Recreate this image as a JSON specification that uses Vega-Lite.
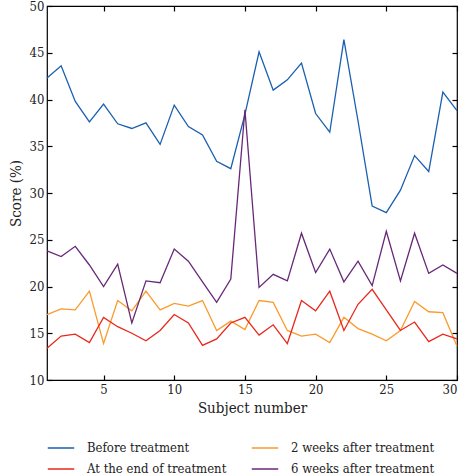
{
  "$schema": "https://vega.github.io/schema/vega-lite/v6.json",
  "width": 410,
  "height": 374,
  "padding": {"left": 8, "top": 0, "right": 7, "bottom": 0},
  "background": "white",
  "config": {
    "font": "DejaVu Serif Condensed, DejaVu Serif",
    "view": {"stroke": "black", "strokeWidth": 1.2},
    "legend": {"labelFont": "DejaVu Serif Condensed, DejaVu Serif"},
    "axis": {"labelFont": "DejaVu Serif Condensed, DejaVu Serif", "titleFont": "DejaVu Serif Condensed, DejaVu Serif", "labelFontSize": 13, "titleFontSize": 15, "titleFontWeight": "normal", "labelColor": "#222", "titleColor": "#222", "grid": false, "domain": false, "tickColor": "black", "tickSize": -5, "tickWidth": 1.2, "labelPadding": 8}
  },
  "data": {"values": [
    {"s":1,"g":"Before treatment","v":42.3},{"s":2,"g":"Before treatment","v":43.6},{"s":3,"g":"Before treatment","v":39.8},{"s":4,"g":"Before treatment","v":37.6},{"s":5,"g":"Before treatment","v":39.5},{"s":6,"g":"Before treatment","v":37.4},{"s":7,"g":"Before treatment","v":36.9},{"s":8,"g":"Before treatment","v":37.5},{"s":9,"g":"Before treatment","v":35.2},{"s":10,"g":"Before treatment","v":39.4},{"s":11,"g":"Before treatment","v":37.1},{"s":12,"g":"Before treatment","v":36.2},{"s":13,"g":"Before treatment","v":33.4},{"s":14,"g":"Before treatment","v":32.6},{"s":15,"g":"Before treatment","v":38.4},{"s":16,"g":"Before treatment","v":45.1},{"s":17,"g":"Before treatment","v":41.0},{"s":18,"g":"Before treatment","v":42.1},{"s":19,"g":"Before treatment","v":43.9},{"s":20,"g":"Before treatment","v":38.5},{"s":21,"g":"Before treatment","v":36.5},{"s":22,"g":"Before treatment","v":46.4},{"s":23,"g":"Before treatment","v":37.7},{"s":24,"g":"Before treatment","v":28.6},{"s":25,"g":"Before treatment","v":27.9},{"s":26,"g":"Before treatment","v":30.3},{"s":27,"g":"Before treatment","v":34.0},{"s":28,"g":"Before treatment","v":32.3},{"s":29,"g":"Before treatment","v":40.8},{"s":30,"g":"Before treatment","v":38.8},
    {"s":1,"g":"2 weeks after treatment","v":17.0},{"s":2,"g":"2 weeks after treatment","v":17.6},{"s":3,"g":"2 weeks after treatment","v":17.5},{"s":4,"g":"2 weeks after treatment","v":19.5},{"s":5,"g":"2 weeks after treatment","v":13.9},{"s":6,"g":"2 weeks after treatment","v":18.5},{"s":7,"g":"2 weeks after treatment","v":17.4},{"s":8,"g":"2 weeks after treatment","v":19.5},{"s":9,"g":"2 weeks after treatment","v":17.5},{"s":10,"g":"2 weeks after treatment","v":18.2},{"s":11,"g":"2 weeks after treatment","v":17.9},{"s":12,"g":"2 weeks after treatment","v":18.5},{"s":13,"g":"2 weeks after treatment","v":15.3},{"s":14,"g":"2 weeks after treatment","v":16.3},{"s":15,"g":"2 weeks after treatment","v":15.4},{"s":16,"g":"2 weeks after treatment","v":18.5},{"s":17,"g":"2 weeks after treatment","v":18.3},{"s":18,"g":"2 weeks after treatment","v":15.3},{"s":19,"g":"2 weeks after treatment","v":14.7},{"s":20,"g":"2 weeks after treatment","v":14.9},{"s":21,"g":"2 weeks after treatment","v":14.0},{"s":22,"g":"2 weeks after treatment","v":16.7},{"s":23,"g":"2 weeks after treatment","v":15.5},{"s":24,"g":"2 weeks after treatment","v":14.9},{"s":25,"g":"2 weeks after treatment","v":14.2},{"s":26,"g":"2 weeks after treatment","v":15.3},{"s":27,"g":"2 weeks after treatment","v":18.4},{"s":28,"g":"2 weeks after treatment","v":17.3},{"s":29,"g":"2 weeks after treatment","v":17.2},{"s":30,"g":"2 weeks after treatment","v":13.6},
    {"s":1,"g":"At the end of treatment","v":13.4},{"s":2,"g":"At the end of treatment","v":14.7},{"s":3,"g":"At the end of treatment","v":14.9},{"s":4,"g":"At the end of treatment","v":14.0},{"s":5,"g":"At the end of treatment","v":16.7},{"s":6,"g":"At the end of treatment","v":15.7},{"s":7,"g":"At the end of treatment","v":15.0},{"s":8,"g":"At the end of treatment","v":14.2},{"s":9,"g":"At the end of treatment","v":15.3},{"s":10,"g":"At the end of treatment","v":17.0},{"s":11,"g":"At the end of treatment","v":16.1},{"s":12,"g":"At the end of treatment","v":13.7},{"s":13,"g":"At the end of treatment","v":14.4},{"s":14,"g":"At the end of treatment","v":16.1},{"s":15,"g":"At the end of treatment","v":16.7},{"s":16,"g":"At the end of treatment","v":14.8},{"s":17,"g":"At the end of treatment","v":15.9},{"s":18,"g":"At the end of treatment","v":13.9},{"s":19,"g":"At the end of treatment","v":18.5},{"s":20,"g":"At the end of treatment","v":17.4},{"s":21,"g":"At the end of treatment","v":19.5},{"s":22,"g":"At the end of treatment","v":15.3},{"s":23,"g":"At the end of treatment","v":18.1},{"s":24,"g":"At the end of treatment","v":19.7},{"s":25,"g":"At the end of treatment","v":17.5},{"s":26,"g":"At the end of treatment","v":15.3},{"s":27,"g":"At the end of treatment","v":16.2},{"s":28,"g":"At the end of treatment","v":14.1},{"s":29,"g":"At the end of treatment","v":14.9},{"s":30,"g":"At the end of treatment","v":14.4},
    {"s":1,"g":"6 weeks after treatment","v":23.8},{"s":2,"g":"6 weeks after treatment","v":23.2},{"s":3,"g":"6 weeks after treatment","v":24.3},{"s":4,"g":"6 weeks after treatment","v":22.3},{"s":5,"g":"6 weeks after treatment","v":20.0},{"s":6,"g":"6 weeks after treatment","v":22.4},{"s":7,"g":"6 weeks after treatment","v":16.1},{"s":8,"g":"6 weeks after treatment","v":20.6},{"s":9,"g":"6 weeks after treatment","v":20.4},{"s":10,"g":"6 weeks after treatment","v":24.0},{"s":11,"g":"6 weeks after treatment","v":22.7},{"s":12,"g":"6 weeks after treatment","v":20.5},{"s":13,"g":"6 weeks after treatment","v":18.3},{"s":14,"g":"6 weeks after treatment","v":20.8},{"s":15,"g":"6 weeks after treatment","v":38.9},{"s":16,"g":"6 weeks after treatment","v":19.9},{"s":17,"g":"6 weeks after treatment","v":21.3},{"s":18,"g":"6 weeks after treatment","v":20.6},{"s":19,"g":"6 weeks after treatment","v":25.7},{"s":20,"g":"6 weeks after treatment","v":21.5},{"s":21,"g":"6 weeks after treatment","v":24.0},{"s":22,"g":"6 weeks after treatment","v":20.5},{"s":23,"g":"6 weeks after treatment","v":22.7},{"s":24,"g":"6 weeks after treatment","v":20.1},{"s":25,"g":"6 weeks after treatment","v":25.9},{"s":26,"g":"6 weeks after treatment","v":20.6},{"s":27,"g":"6 weeks after treatment","v":25.7},{"s":28,"g":"6 weeks after treatment","v":21.4},{"s":29,"g":"6 weeks after treatment","v":22.3},{"s":30,"g":"6 weeks after treatment","v":21.4}
  ]},
  "resolve": {"axis": {"x": "independent", "y": "independent"}},
  "layer": [
    {
      "mark": {"type": "line", "strokeWidth": 1.3},
      "encoding": {
        "x": {"field": "s", "type": "quantitative", "scale": {"domain": [1, 30], "nice": false, "zero": false}, "axis": {"title": "Subject number", "values": [5, 10, 15, 20, 25, 30], "titlePadding": 4}},
        "y": {"field": "v", "type": "quantitative", "scale": {"domain": [10, 50], "nice": false, "zero": false}, "axis": {"title": "Score (%)", "values": [10, 15, 20, 25, 30, 35, 40, 45, 50], "titlePadding": 6}},
        "color": {
          "field": "g", "type": "nominal",
          "scale": {"domain": ["Before treatment", "2 weeks after treatment", "At the end of treatment", "6 weeks after treatment"], "range": ["#1a5fb0", "#fb9a2c", "#e8281c", "#682878"]},
          "legend": {"title": null, "orient": "bottom", "columns": 2, "symbolType": "stroke", "symbolSize": 700, "symbolStrokeWidth": 1.5, "labelFont": "DejaVu Serif Condensed, DejaVu Serif", "labelFontSize": 13, "labelLimit": 400, "labelColor": "#222", "columnPadding": 21, "rowPadding": -7, "labelOffset": 12, "offset": 19, "padding": 0}
        }
      }
    },
    {
      "mark": {"type": "line", "opacity": 0},
      "encoding": {
        "x": {"field": "s", "type": "quantitative", "scale": {"domain": [1, 30], "nice": false, "zero": false}, "axis": {"orient": "top", "title": null, "labels": false, "values": [5, 10, 15, 20, 25, 30]}},
        "y": {"field": "v", "type": "quantitative", "scale": {"domain": [10, 50], "nice": false, "zero": false}, "axis": {"orient": "right", "title": null, "labels": false, "values": [10, 15, 20, 25, 30, 35, 40, 45, 50]}}
      }
    }
  ]
}
